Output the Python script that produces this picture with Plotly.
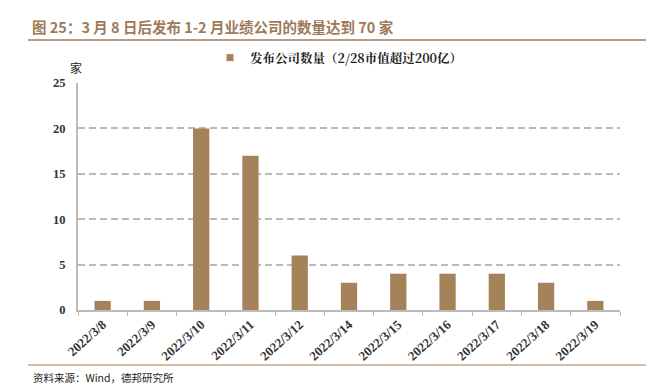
import plotly.graph_objects as go

categories = ["2022/3/8", "2022/3/9", "2022/3/10", "2022/3/11", "2022/3/12", "2022/3/14",
              "2022/3/15", "2022/3/16", "2022/3/17", "2022/3/18", "2022/3/19"]
values = [1, 1, 20, 17, 6, 3, 4, 4, 4, 3, 1]
series_name = "发布公司数量（2/28市值超过200亿）"
y_ticks = [0, 5, 10, 15, 20, 25]

bar_color = "#A5825A"
title_color = "#A07A58"

# the page body adds an 8px margin; positions below are in target-image pixels
OFF = 8
L, T = 78 - OFF, 83 - OFF
PW, PH = 542, 227
R, B = 662 - L - PW, 387 - T - PH


def px(x):
    return (x - OFF - L) / PW


def py(y):
    return (T + PH - (y - OFF)) / PH


fig = go.Figure()
fig.add_trace(go.Bar(x=categories, y=values, name=series_name, showlegend=False,
                     marker=dict(color=bar_color, line=dict(width=0)), width=0.33))
fig.add_trace(go.Scatter(x=[None], y=[None], mode="markers", name=series_name,
                         marker=dict(symbol="square", size=7, color=bar_color)))

fig.update_layout(
    width=662, height=387,
    margin=dict(l=L, r=R, t=T, b=B, autoexpand=False),
    paper_bgcolor="white", plot_bgcolor="white",
    showlegend=True,
    legend=dict(orientation="h", x=px(210), xanchor="left", y=py(58), yanchor="middle",
                font=dict(family="Noto Serif CJK SC, Noto Sans CJK SC, Liberation Serif", size=12.5,
                          color="#222222", weight="bold"),
                itemwidth=30, bgcolor="rgba(0,0,0,0)"),
    bargap=0.67,
    font=dict(family="Liberation Serif", color="#222222"),
)
fig.update_xaxes(type="category", showline=True, linecolor="#BBBBBB", linewidth=2,
                 ticks="outside", ticklen=4, tickcolor="#BBBBBB", tickson="boundaries",
                 tickangle=-42, automargin=False,
                 tickfont=dict(family="Liberation Serif", size=13, color="#333333", weight="bold"),
                 showgrid=False)
fig.update_yaxes(range=[0, 25], tickvals=y_ticks, showline=True, linecolor="#BBBBBB", linewidth=2,
                 ticks="", showgrid=True, gridcolor="#BBBBBB", griddash="7px,4px", gridwidth=1.5,
                 automargin=False, ticklabelstandoff=8,
                 tickfont=dict(family="Liberation Serif", size=12.5, color="#333333", weight="bold"),
                 zeroline=False)

fig.add_annotation(text="图 25：3 月 8 日后发布 1-2 月业绩公司的数量达到 70 家", xref="paper", yref="paper",
                   x=px(30), y=py(26), xanchor="left", yanchor="middle", showarrow=False,
                   font=dict(family="Noto Sans CJK SC", size=14.5, color=title_color, weight="bold"))
fig.add_annotation(text="家", xref="paper", yref="paper", x=px(76), y=py(68),
                   xanchor="center", yanchor="middle", showarrow=False,
                   font=dict(family="Noto Sans CJK SC", size=12, color="#222222"))
fig.add_annotation(text="资料来源：Wind，德邦研究所", xref="paper", yref="paper", x=px(31),
                   y=py(377), xanchor="left", yanchor="middle", showarrow=False,
                   font=dict(family="Noto Sans CJK SC", size=10.5, color="#222222"))
fig.add_shape(type="line", xref="paper", yref="paper", x0=px(28), x1=px(646),
              y0=py(40), y1=py(40), line=dict(color=title_color, width=1.5))
fig.add_shape(type="line", xref="paper", yref="paper", x0=px(28), x1=px(646),
              y0=py(365), y1=py(365), line=dict(color=title_color, width=1))

fig.write_html("out.html")
